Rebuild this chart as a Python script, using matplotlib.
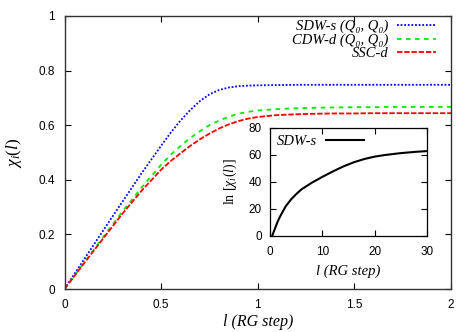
import matplotlib
matplotlib.use("Agg")
import matplotlib.pyplot as plt

plt.rcParams['mathtext.fontset'] = 'custom'
plt.rcParams['mathtext.rm'] = 'Liberation Serif'
plt.rcParams['mathtext.it'] = 'Liberation Serif:italic'
plt.rcParams['mathtext.bf'] = 'Liberation Serif:bold'
plt.rcParams['font.family'] = ['Liberation Sans', 'DejaVu Sans']

# ---- main panel data ----
l_main = [0.0, 0.1, 0.2, 0.3, 0.4, 0.5, 0.55, 0.6, 0.65, 0.7, 0.75, 0.8, 0.85,
          0.9, 0.95, 1.0, 1.1, 1.2, 1.3, 1.4, 1.5, 1.6, 1.7, 1.8, 1.9, 2.0]
sdw_s = [0.0, 0.107, 0.214, 0.320, 0.425, 0.525, 0.573, 0.617, 0.655, 0.688, 0.713,
         0.729, 0.738, 0.743, 0.745, 0.746, 0.747, 0.748, 0.748, 0.748, 0.748,
         0.748, 0.748, 0.748, 0.748, 0.748]
cdw_d = [0.0, 0.095, 0.190, 0.284, 0.373, 0.455, 0.492, 0.524, 0.553, 0.578, 0.600,
         0.617, 0.631, 0.642, 0.649, 0.654, 0.659, 0.662, 0.664, 0.665, 0.666,
         0.666, 0.667, 0.667, 0.667, 0.667]
ssc_d = [0.0, 0.093, 0.185, 0.276, 0.361, 0.437, 0.469, 0.497, 0.524, 0.548, 0.569,
         0.588, 0.603, 0.615, 0.624, 0.630, 0.637, 0.640, 0.642, 0.643, 0.643,
         0.644, 0.644, 0.644, 0.644, 0.644]
labels = ['SDW-s (Q\u2080, Q\u2080)', 'CDW-d (Q\u2080, Q\u2080)', 'SSC-d']

# ---- inset data ----
l_inset = [0.4, 1.0, 1.5, 2.0, 3.0, 4.0, 5.0, 6.0, 7.0, 8.0, 10.0, 12.0, 14.0,
           16.0, 18.0, 20.0, 22.0, 25.0, 28.0, 30.0]
ln_sdw_s = [0.0, 6.0, 11.0, 15.0, 22.0, 27.0, 31.0, 34.5, 37.0, 39.5, 43.8, 47.8,
            51.5, 54.6, 57.0, 58.8, 60.0, 61.4, 62.4, 62.9]

xticks_main = [0, 0.5, 1, 1.5, 2]
xticklabels_main = ['0', '0.5', '1', '1.5', '2']
yticks_main = [0, 0.2, 0.4, 0.6, 0.8, 1]
yticklabels_main = ['0', '0.2', '0.4', '0.6', '0.8', '1']
xticks_inset = [0, 10, 20, 30]
yticks_inset = [0, 20, 40, 60, 80]

serif_it = dict(family='Liberation Serif', style='italic')
spine_col = '#333333'

fig = plt.figure(figsize=(4.75, 3.32), dpi=100)
ax = fig.add_axes([64.5/475, 1-289/332, (451-64.5)/475, (289-16)/332])

ax.plot(l_main, sdw_s, color='#0000ff', lw=1.3, linestyle=(0, (1, 1)), label=labels[0])
ax.plot(l_main, cdw_d, color='#00ee00', lw=1.3, linestyle=(0, (2.5, 2.5)), label=labels[1])
ax.plot(l_main, ssc_d, color='#ff0000', lw=1.3, linestyle=(0, (3, 1)), label=labels[2])

ax.set_xlim(0, 2)
ax.set_ylim(0, 1)
ax.set_xticks(xticks_main)
ax.set_xticklabels(xticklabels_main)
ax.set_yticks(yticks_main)
ax.set_yticklabels(yticklabels_main)
ax.tick_params(direction='in', top=True, right=True, length=4, width=0.8,
               labelsize=8.5, pad=7, colors='black')
for s in ax.spines.values():
    s.set_color(spine_col)
    s.set_linewidth(1.0)
ax.set_xlabel('l (RG step)', fontsize=11.5, labelpad=2, **serif_it)
ax.set_ylabel(r'$\chi_i(l)$', fontsize=12.5, labelpad=10, **serif_it)

leg = ax.legend(loc='upper right', bbox_to_anchor=(0.962, 0.986), frameon=False,
                markerfirst=False, handlelength=2.7, handletextpad=0.6,
                labelspacing=0.0, borderpad=0, borderaxespad=0,
                prop=dict(family=['Liberation Serif', 'DejaVu Serif'],
                          style='italic', size=10.5))

# ---- inset ----
axi = fig.add_axes([270/475, 1-236/332, (427-270)/475, (236-128)/332])
axi.plot(l_inset, ln_sdw_s, color='black', lw=1.5, label='SDW-s')
axi.set_xlim(0, 30)
axi.set_ylim(0, 80)
axi.set_xticks(xticks_inset)
axi.set_yticks(yticks_inset)
axi.tick_params(direction='in', top=True, right=True, length=4, width=0.8,
                labelsize=8.5)
axi.tick_params(axis='x', pad=7)
axi.tick_params(axis='y', pad=6)
for s in axi.spines.values():
    s.set_color('black')
    s.set_linewidth(0.9)
axi.set_xlabel('l (RG step)', fontsize=10.5, labelpad=5, **serif_it)
axi.set_ylabel(r'ln [$\chi_i(l)$]', fontsize=10, labelpad=7, family='Liberation Serif')
axi.legend(loc='upper left', frameon=False, markerfirst=False, handlelength=2.6,
           handletextpad=0.6, borderpad=0.3, borderaxespad=0.2,
           prop=dict(family='Liberation Serif', style='italic', size=10.5))

fig.savefig('out.png', dpi=100)
